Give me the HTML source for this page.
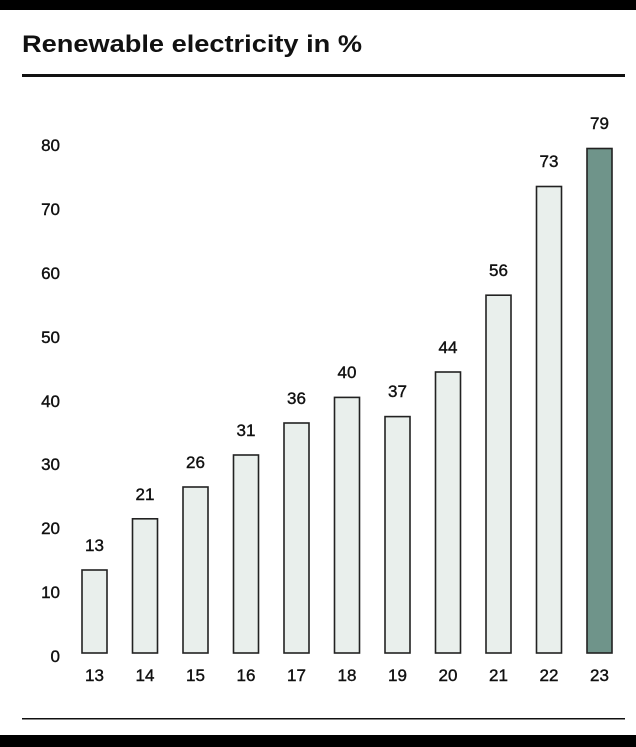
<!DOCTYPE html>
<html><head><style>
body{margin:0;width:636px;height:747px;background:#fff;position:relative;overflow:hidden;font-family:"Liberation Sans",sans-serif;color:#111}
</style></head><body>
<svg width="636" height="747" xmlns="http://www.w3.org/2000/svg" style="position:absolute;left:0;top:0">
<rect x="0" y="0" width="636" height="10" fill="#000"/>
<rect x="0" y="735" width="636" height="12" fill="#000"/>
<text x="22" y="52" font-size="24" font-weight="bold" font-family="Liberation Sans, sans-serif" fill="#111" textLength="340" lengthAdjust="spacingAndGlyphs">Renewable electricity in %</text>
<rect x="22" y="74" width="603" height="3" fill="#111"/>
<rect x="22" y="718" width="603" height="1.5" fill="#111"/>
<g font-size="17" font-family="Liberation Sans, sans-serif" fill="#111" stroke="#111" stroke-width="0.4" text-anchor="end">
<text x="60" y="662">0</text><text x="60" y="598">10</text><text x="60" y="534">20</text><text x="60" y="470">30</text><text x="60" y="407">40</text><text x="60" y="343">50</text><text x="60" y="279">60</text><text x="60" y="215">70</text><text x="60" y="151">80</text>
</g>
<g stroke="#222" stroke-width="1.6">
<rect x="82" y="570" width="25" height="83" fill="#e9efec"/>
<rect x="132.5" y="518.8" width="25" height="134.2" fill="#e9efec"/>
<rect x="183" y="487" width="25" height="166" fill="#e9efec"/>
<rect x="233.5" y="455" width="25" height="198" fill="#e9efec"/>
<rect x="284" y="423" width="25" height="230" fill="#e9efec"/>
<rect x="334.5" y="397.4" width="25" height="255.6" fill="#e9efec"/>
<rect x="385" y="416.6" width="25" height="236.4" fill="#e9efec"/>
<rect x="435.5" y="372" width="25" height="281" fill="#e9efec"/>
<rect x="486" y="295.2" width="25" height="357.8" fill="#e9efec"/>
<rect x="536.5" y="186.5" width="25" height="466.5" fill="#e9efec"/>
<rect x="587" y="148.5" width="25" height="504.5" fill="#6f948a"/>
</g>
<g font-size="17" font-family="Liberation Sans, sans-serif" fill="#111" stroke="#111" stroke-width="0.4" text-anchor="middle">
<text x="94.5" y="551">13</text><text x="145" y="500">21</text><text x="195.5" y="468">26</text><text x="246" y="436">31</text><text x="296.5" y="404">36</text><text x="347" y="378">40</text><text x="397.5" y="397">37</text><text x="448" y="353">44</text><text x="498.5" y="276">56</text><text x="549" y="167">73</text><text x="599.5" y="129">79</text>
<text x="94.5" y="681">13</text><text x="145" y="681">14</text><text x="195.5" y="681">15</text><text x="246" y="681">16</text><text x="296.5" y="681">17</text><text x="347" y="681">18</text><text x="397.5" y="681">19</text><text x="448" y="681">20</text><text x="498.5" y="681">21</text><text x="549" y="681">22</text><text x="599.5" y="681">23</text>
</g>
</svg>
</body></html>
